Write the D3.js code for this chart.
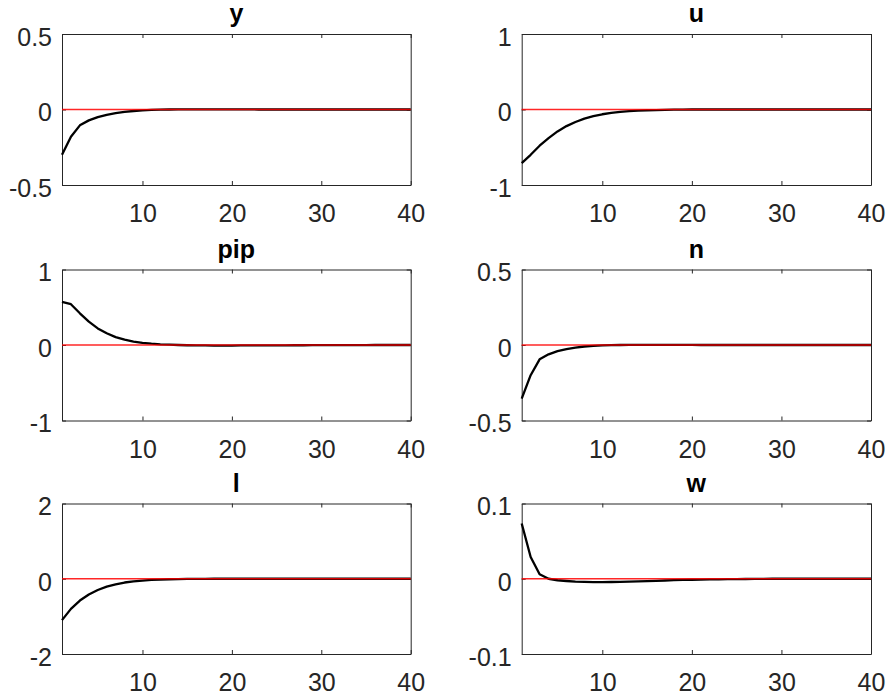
<!DOCTYPE html>
<html>
<head>
<meta charset="utf-8">
<script src="https://cdn.jsdelivr.net/npm/d3@7"></script>
<style>
  html, body { margin: 0; padding: 0; background: #ffffff; }
  svg { display: block; }
  text { font-family: "Liberation Sans", Arial, sans-serif; }
</style>
</head>
<body>
<svg id="chart" width="887" height="696"></svg>
<script>
// ---- data ----
const periods = d3.range(1, 41);
const xTicks = [10, 20, 30, 40];
const titles = ["y", "u", "pip", "n", "l", "w"];
const yRanges = [[-0.5, 0.5], [-1, 1], [-1, 1], [-0.5, 0.5], [-2, 2], [-0.1, 0.1]];

const seriesY = [-0.30, -0.18, -0.105, -0.072, -0.050, -0.035, -0.024, -0.016, -0.010, -0.006,
  -0.003, -0.001, 0.000, 0.001, 0.001, 0.001, 0.001, 0.001, 0.001, 0.001,
  0.001, 0.001, 0.000, 0.000, 0.000, 0.000, 0.000, 0.000, 0.000, 0.000,
  0.000, 0.000, 0.000, 0.000, 0.000, 0.000, 0.000, 0.000, 0.000, 0.000];
const seriesU = [-0.71, -0.60, -0.48, -0.38, -0.29, -0.22, -0.165, -0.12, -0.088, -0.063,
  -0.045, -0.032, -0.022, -0.015, -0.010, -0.007, -0.004, -0.002, -0.001, 0.000,
  0.000, 0.000, 0.000, 0.000, 0.000, 0.000, 0.000, 0.000, 0.000, 0.000,
  0.000, 0.000, 0.000, 0.000, 0.000, 0.000, 0.000, 0.000, 0.000, 0.000];
const seriesPip = [0.57, 0.54, 0.42, 0.31, 0.22, 0.155, 0.105, 0.070, 0.046, 0.029,
  0.017, 0.009, 0.004, 0.000, -0.003, -0.005, -0.006, -0.007, -0.007, -0.007,
  -0.006, -0.006, -0.005, -0.005, -0.004, -0.004, -0.003, -0.003, -0.002, -0.002,
  -0.002, -0.001, -0.001, -0.001, -0.001, 0.000, 0.000, 0.000, 0.000, 0.000];
const seriesN = [-0.355, -0.20, -0.095, -0.062, -0.041, -0.027, -0.017, -0.010, -0.006, -0.003,
  -0.001, 0.000, 0.001, 0.001, 0.001, 0.001, 0.001, 0.001, 0.001, 0.001,
  0.000, 0.000, 0.000, 0.000, 0.000, 0.000, 0.000, 0.000, 0.000, 0.000,
  0.000, 0.000, 0.000, 0.000, 0.000, 0.000, 0.000, 0.000, 0.000, 0.000];
const seriesL = [-1.10, -0.80, -0.58, -0.42, -0.30, -0.21, -0.15, -0.10, -0.07, -0.048,
  -0.032, -0.021, -0.013, -0.008, -0.004, -0.002, -0.001, 0.000, 0.000, 0.000,
  0.000, 0.000, 0.000, 0.000, 0.000, 0.000, 0.000, 0.000, 0.000, 0.000,
  0.000, 0.000, 0.000, 0.000, 0.000, 0.000, 0.000, 0.000, 0.000, 0.000];
const seriesW = [0.0735, 0.029, 0.006, 0.000, -0.002, -0.003, -0.0038, -0.0042, -0.0044, -0.0044,
  -0.0043, -0.0041, -0.0038, -0.0035, -0.0031, -0.0027, -0.0023, -0.0019, -0.0016, -0.0013,
  -0.0011, -0.0009, -0.0007, -0.0005, -0.0004, -0.0003, -0.0002, -0.0001, 0.000, 0.000,
  0.000, 0.000, 0.000, 0.000, 0.000, 0.000, 0.000, 0.000, 0.000, 0.000];
const allSeries = [seriesY, seriesU, seriesPip, seriesN, seriesL, seriesW];

// ---- layout ----
const colLeft = [62, 521.7];
const colRight = [410.7, 871];
const rowTop = [34, 269.5, 503.5];
const rowBottom = [185, 420.5, 654];
const axisColor = "#262626";
const svg = d3.select("#chart");

titles.forEach((title, i) => {
  const col = i % 2, row = Math.floor(i / 2);
  const x0 = colLeft[col], x1 = colRight[col], y0 = rowTop[row], y1 = rowBottom[row];
  const x = d3.scaleLinear().domain([1, 40]).range([x0, x1]);
  const y = d3.scaleLinear().domain(yRanges[i]).range([y1, y0]);
  const g = svg.append("g");
  const yTicks = [yRanges[i][0], 0, yRanges[i][1]];
  const fmt = v => String(v);

  // axes (ticks inside)
  const bottom = g.append("g").attr("transform", `translate(0,${y1})`)
    .call(d3.axisBottom(x).tickValues(xTicks).tickSize(-4).tickSizeOuter(0).tickPadding(8).tickFormat(fmt));
  const top = g.append("g").attr("transform", `translate(0,${y0})`)
    .call(d3.axisTop(x).tickValues(xTicks).tickSize(-4).tickSizeOuter(0).tickFormat(""));
  const left = g.append("g").attr("transform", `translate(${x0},0)`)
    .call(d3.axisLeft(y).tickValues(yTicks).tickSize(-4).tickSizeOuter(0).tickPadding(14).tickFormat(fmt));
  const right = g.append("g").attr("transform", `translate(${x1},0)`)
    .call(d3.axisRight(y).tickValues(yTicks).tickSize(-4).tickSizeOuter(0).tickFormat(""));

  [bottom, top, left, right].forEach(a => {
    a.select(".domain").attr("stroke", axisColor).attr("stroke-width", 1);
    a.selectAll(".tick line").attr("stroke", axisColor).attr("stroke-width", 1);
    a.selectAll("text").attr("font-size", 25).attr("fill", axisColor)
      .attr("font-family", "'Liberation Sans', Arial, sans-serif");
  });
  bottom.selectAll(".tick text").attr("dy", null).attr("y", 37);
  left.selectAll(".tick text").attr("dy", "0.45em").attr("x", -10);

  // data line
  const line = d3.line().x((d, k) => x(periods[k])).y(d => y(d));
  g.append("path").datum(allSeries[i])
    .attr("fill", "none").attr("stroke", "#000").attr("stroke-width", 2.3)
    .attr("stroke-linejoin", "round").attr("d", line);

  // zero reference line (drawn on top)
  g.append("line")
    .attr("x1", x(1)).attr("x2", x(40)).attr("y1", y(0)).attr("y2", y(0))
    .attr("stroke", "#ff0000").attr("stroke-width", 1.6).attr("stroke-opacity", 0.85);

  // title
  svg.append("text")
    .attr("x", (x0 + x1) / 2).attr("y", y0 - 12)
    .attr("text-anchor", "middle").attr("font-size", 25).attr("font-weight", "bold")
    .attr("fill", "#000").text(title);
});
</script>
</body>
</html>
